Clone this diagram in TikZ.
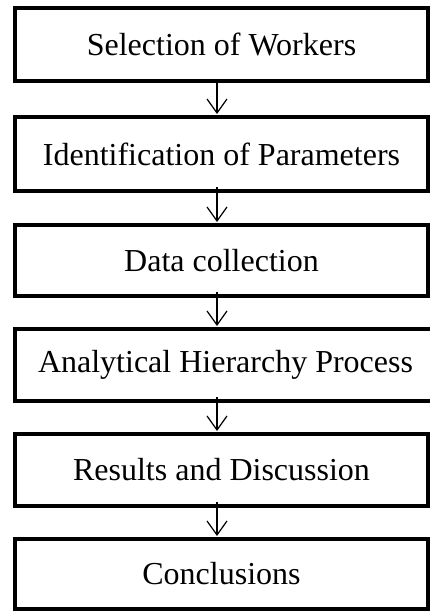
\documentclass[tikz,border=0pt]{standalone}
\usepackage{fontspec}
\setmainfont{Liberation Serif}
\usetikzlibrary{arrows.meta}
\tikzset{
  stepbox/.style={draw=black, line width=4pt, fill=white, minimum width=413pt, inner sep=0pt,
    font=\fontsize{32}{36}\selectfont},
  arr/.style={line width=1.2pt, -{Straight Barb[length=14pt,width=20pt,line width=1.2pt]}, shorten >=1pt}
}
\begin{document}
\begin{tikzpicture}[x=1pt,y=1pt]
\useasboundingbox (0,0) rectangle (430,-611);
\node[stepbox, minimum height=73pt] (b1) at (221.5,-44.5) {Selection of Workers};
\node[stepbox, minimum height=74pt] (b2) at (221.5,-154) {Identification of Parameters};
\node[stepbox, minimum height=71pt] (b3) at (221.5,-260.5) {Data collection};
\node[stepbox, minimum height=72pt, minimum width=421pt] (b4) at (225.5,-365) {Analytical Hierarchy Process};
\node[stepbox, minimum height=72pt] (b5) at (221.5,-470) {Results and Discussion};
\node[stepbox, minimum height=70pt] (b6) at (221.5,-574) {Conclusions};
\coordinate (ax) at (217,0);
\draw[arr] (b1.south -| ax) -- (b2.north -| ax);
\draw[arr] ([yshift=6pt]b2.south -| ax) -- (b3.north -| ax);
\draw[arr] ([yshift=6pt]b3.south -| ax) -- (b4.north -| ax);
\draw[arr] ([yshift=6pt]b4.south -| ax) -- (b5.north -| ax);
\draw[arr] ([yshift=6pt]b5.south -| ax) -- (b6.north -| ax);
\end{tikzpicture}
\end{document}
